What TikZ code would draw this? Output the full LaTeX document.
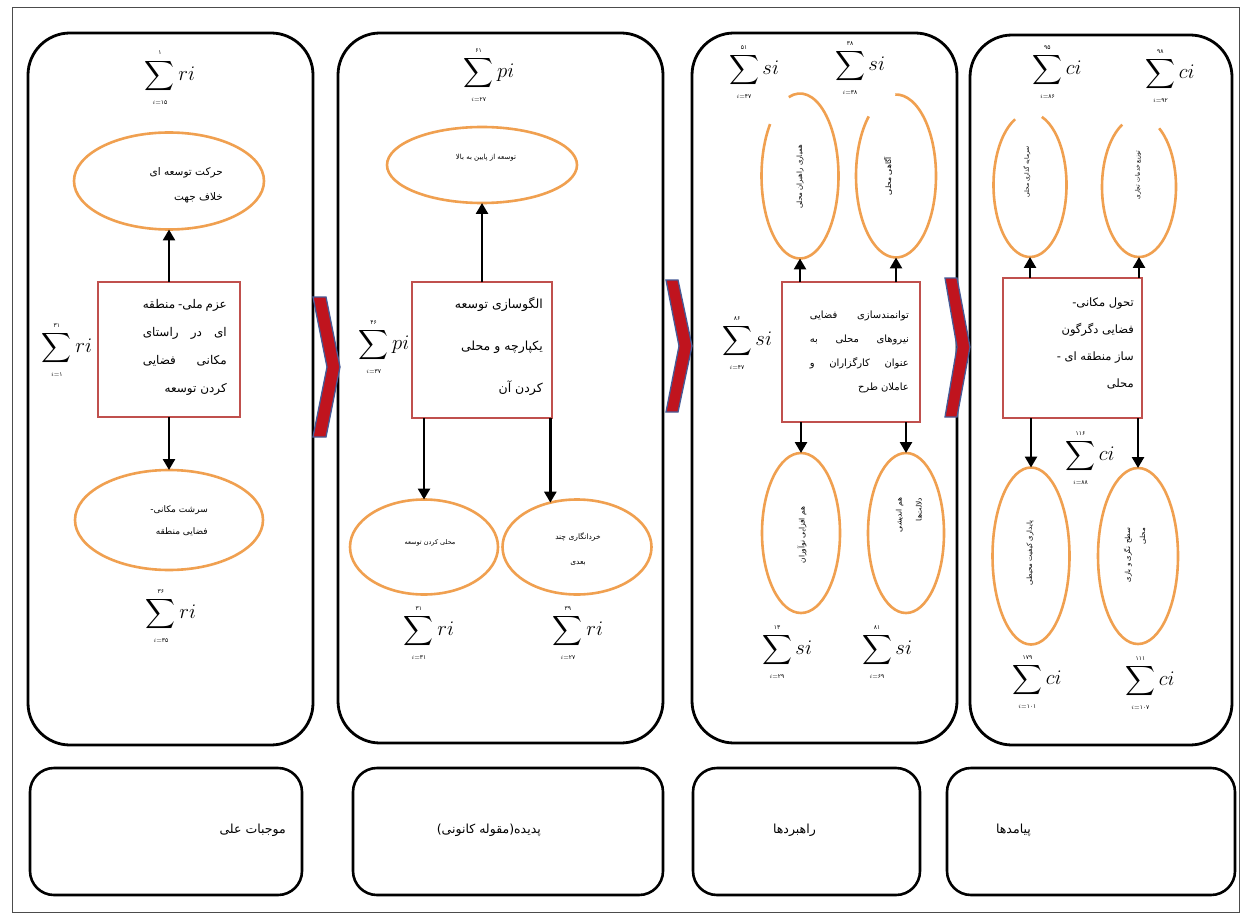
\documentclass[tikz,border=0pt]{standalone}
\usepackage{amsmath}
\usepackage{fontspec}
\usetikzlibrary{shapes.geometric,arrows.meta,calc}
\TeXXeTstate=1
\newfontfamily\arabicfont[Script=Arabic]{DejaVu Sans}
\newcommand{\fa}[1]{{\arabicfont #1}}
\newcommand{\faj}[2]{\hbox to #1{\arabicfont #2}}
\newcommand{\lmt}[1]{\mbox{\fontsize{6}{6}\selectfont #1}}
\newcommand{\sm}[3]{$\displaystyle\sum_{\lmt{$i$=\arabicfont #2}}^{\lmt{\arabicfont #1}} #3$}
\newcommand{\openell}[5]{\draw[orngline] ([shift={({#2*cos(#4)},{#3*sin(#4)})}]#1.center) arc[start angle=#4, end angle=#5, x radius=#2, y radius=#3];}
\definecolor{boxred}{RGB}{192,80,77}
\definecolor{orng}{RGB}{240,160,80}
\definecolor{chevred}{RGB}{192,20,30}
\definecolor{chevblue}{RGB}{70,90,150}
\tikzset{
  panel/.style={draw=black, line width=2.8pt, rounded corners=42pt, inner sep=0pt, outer sep=0pt},
  labbox/.style={draw=black, line width=2.6pt, rounded corners=24pt, inner sep=0pt},
  cbox/.style={draw=boxred, line width=2.4pt, fill=white, inner sep=0pt, outer sep=0pt},
  oval/.style={ellipse, draw=orng, line width=2.6pt, inner sep=0pt, outer sep=0pt},
  hid/.style={ellipse, inner sep=0pt, outer sep=0pt},
  orngline/.style={draw=orng, line width=2.6pt},
  arr/.style={line width=2.6pt, -{Triangle[length=11pt,width=12pt]}},
  sumn/.style={inner sep=0pt, font=\fontsize{21}{25}\selectfont},
  txt/.style={inner sep=0pt, align=right},
  ctxt/.style={inner sep=0pt, align=center},
  chev/.style={fill=chevred, draw=chevblue, line width=1.3pt, line join=miter},
}
\begin{document}
\begin{tikzpicture}[x=1pt,y=-1pt]
\useasboundingbox (0,0) rectangle (1244,917);
\fill[white] (0,0) rectangle (1244,917);
\draw[line width=1pt, black!70] (12,8) rectangle (1239,912);

% panels
\node[panel, minimum width=285pt, minimum height=712pt] (P1) at (170.5,389) {};
\node[panel, minimum width=325pt, minimum height=710pt] (P2) at (500.5,388) {};
\node[panel, minimum width=265pt, minimum height=710pt] (P3) at (824.5,388) {};
\node[panel, minimum width=262pt, minimum height=710pt] (P4) at (1101,390) {};

% bottom label boxes
\node[labbox, minimum width=272pt, minimum height=127pt] (B1) at (166,831.5) {};
\node[labbox, minimum width=310pt, minimum height=127pt] (B2) at (508,831.5) {};
\node[labbox, minimum width=227pt, minimum height=127pt] (B3) at (806.5,831.5) {};
\node[labbox, minimum width=288pt, minimum height=127pt] (B4) at (1091,831.5) {};
\node[txt, anchor=east, font=\fontsize{12.5}{14}\selectfont] (L1) at (286,830) {\fa{\beginR موجبات علی\endR}};
\node[txt, anchor=east, font=\fontsize{12.5}{14}\selectfont] (L2) at (541,830) {\fa{\beginR پدیده(مقوله کانونی)\endR}};
\node[txt, anchor=east, font=\fontsize{12.5}{14}\selectfont] (L3) at (816,830) {\fa{\beginR راهبردها\endR}};
\node[txt, anchor=east, font=\fontsize{12.5}{14}\selectfont] (L4) at (1031,830) {\fa{\beginR پیامدها\endR}};

% chevrons
\draw[chev] (313,297) -- (326,297) -- (340,367) -- (326,437) -- (313,437) -- (327,367) -- cycle;
\draw[chev] (666,280) -- (678,280) -- (692,346) -- (678,412) -- (666,412) -- (679,346) -- cycle;
\draw[chev] (945,278) -- (957,278) -- (970,347) -- (957,417) -- (945,417) -- (957,347) -- cycle;

% ---------- column 1
\node[sumn] (s1a) at (170,78) {\sm{۱}{۱۵}{ri}};
\node[oval, minimum width=190pt, minimum height=97pt] (e1a) at (169,181) {};
\node[txt, anchor=east, font=\fontsize{10.5}{25}\selectfont] (t1a) at (223,185) {\fa{\beginR حرکت توسعه ای\endR}\\\fa{\beginR خلاف جهت\endR}};
\node[cbox, minimum width=142pt, minimum height=135pt] (b1) at (169,349.5) {};
\node[txt, anchor=east, font=\fontsize{12}{28}\selectfont] (tb1) at (227,347) {\faj{84pt}{\beginR عزم ملی- منطقه\endR}\\\faj{84pt}{\beginR ای در راستای\endR}\\\faj{84pt}{\beginR مکانی فضایی\endR}\\\fa{\beginR کردن توسعه\endR}};
\node[sumn] (s1b) at (67,350) {\sm{۳۱}{۱}{ri}};
\node[oval, minimum width=188pt, minimum height=100pt] (e1b) at (169,520) {};
\node[txt, anchor=east, font=\fontsize{9}{22}\selectfont] (t1b) at (208,521) {\fa{\beginR سرشت مکانی-\endR}\\\fa{\beginR فضایی منطقه\endR}};
\node[sumn] (s1c) at (171,616) {\sm{۳۶}{۳۵}{ri}};
\draw[arr] (b1.north) -- (b1.north |- e1a.south);
\draw[arr] (b1.south) -- (b1.south |- e1b.north);

% ---------- column 2
\node[sumn] (s2a) at (489,75) {\sm{۶۱}{۲۷}{pi}};
\node[oval, minimum width=190pt, minimum height=76pt] (e2a) at (482,165) {};
\node[ctxt, font=\fontsize{7}{9}\selectfont] (t2a) at (486,158) {\fa{\beginR توسعه از پایین به بالا\endR}};
\node[cbox, minimum width=140pt, minimum height=136pt] (b2) at (482,350) {};
\node[txt, anchor=east, font=\fontsize{12.5}{42}\selectfont] (tb2) at (543,346) {\fa{\beginR الگوسازی توسعه\endR}\\\fa{\beginR یکپارچه و محلی\endR}\\\fa{\beginR کردن آن\endR}};
\node[sumn] (s2b) at (384,347) {\sm{۴۶}{۳۷}{pi}};
\node[oval, minimum width=148pt, minimum height=95pt] (e2b) at (424,547) {};
\node[ctxt, font=\fontsize{6.5}{8}\selectfont] (t2b) at (430,543) {\fa{\beginR محلی کردن توسعه\endR}};
\node[oval, minimum width=149pt, minimum height=95pt] (e2c) at (577,547) {};
\node[ctxt, font=\fontsize{7.5}{25}\selectfont] (t2c) at (578,549) {\fa{\beginR خردانگاری چند\endR}\\\fa{\beginR بعدی\endR}};
\node[sumn] (s2c) at (429,633) {\sm{۳۱}{۳۱}{ri}};
\node[sumn] (s2d) at (578,633) {\sm{۳۹}{۲۷}{ri}};
\draw[arr] (b2.north) -- (b2.north |- e2a.south);
\draw[arr] (b2.south -| e2b.north) -- (e2b.north);
\draw[arr] (b2.south -| e2c.121) -- (e2c.121);

% ---------- column 3
\node[sumn] (s3a) at (754,72) {\sm{۵۱}{۴۷}{si}};
\node[sumn] (s3b) at (860,68) {\sm{۳۸}{۳۸}{si}};
\node[hid, minimum width=77pt, minimum height=165pt] (e3a) at (800,176) {};
\openell{e3a}{38.5pt}{82.5pt}{141}{467}
\node[ctxt, rotate=90, font=\fontsize{7}{9}\selectfont] (t3a) at (800,177) {\fa{\beginR همیاری راهبران محلی\endR}};
\node[hid, minimum width=80pt, minimum height=163pt] (e3b) at (896,176) {};
\openell{e3b}{40pt}{81.5pt}{133}{451}
\node[ctxt, rotate=90, font=\fontsize{7.5}{9}\selectfont] (t3b) at (888,176) {\fa{\beginR آگاهی محلی\endR}};
\node[cbox, minimum width=138pt, minimum height=140pt] (b3) at (851,352) {};
\node[txt, anchor=east, font=\fontsize{10}{24}\selectfont] (tb3) at (909,352) {\faj{99pt}{\beginR توانمندسازی فضایی\endR}\\\faj{99pt}{\beginR نیروهای محلی به\endR}\\\faj{99pt}{\beginR عنوان کارگزاران و\endR}\\\fa{\beginR عاملان طرح\endR}};
\node[sumn] (s3c) at (747,343) {\sm{۸۶}{۴۷}{si}};
\node[oval, minimum width=78pt, minimum height=160pt] (e3c) at (801,533) {};
\node[ctxt, rotate=90, font=\fontsize{7.5}{9}\selectfont] (t3c) at (802,535) {\fa{\beginR هم افزایی نوآوران\endR}};
\node[oval, minimum width=76pt, minimum height=160pt] (e3d) at (906,533) {};
\node[txt, rotate=90, font=\fontsize{7.5}{20}\selectfont] (t3d) at (909,515) {\fa{\beginR هم اندیشی\endR}\\\fa{\beginR دلالت‌ها\endR}};
\node[sumn] (s3d) at (787,652) {\sm{۱۳}{۲۹}{si}};
\node[sumn] (s3e) at (887,652) {\sm{۸۱}{۶۹}{si}};
\draw[arr] (b3.north -| e3a.south) -- (e3a.south);
\draw[arr] (b3.north -| e3b.south) -- (e3b.south);
\draw[arr] (b3.south -| e3c.north) -- (e3c.north);
\draw[arr] (b3.south -| e3d.north) -- (e3d.north);

% ---------- column 4
\node[sumn] (s4a) at (1057,72) {\sm{۹۵}{۸۶}{ci}};
\node[sumn] (s4b) at (1170,76) {\sm{۹۸}{۹۲}{ci}};
\node[hid, minimum width=73pt, minimum height=144pt] (e4a) at (1030,185) {};
\openell{e4a}{36.5pt}{72pt}{114}{431}
\node[ctxt, rotate=90, font=\fontsize{6}{8}\selectfont] (t4a) at (1027,172) {\fa{\beginR سرمایه گذاری محلی\endR}};
\node[hid, minimum width=74pt, minimum height=140pt] (e4b) at (1139,187) {};
\openell{e4b}{37pt}{70pt}{117}{417}
\node[ctxt, rotate=90, font=\fontsize{6}{8}\selectfont] (t4b) at (1138,175) {\fa{\beginR توزیع خدمات تجاری\endR}};
\node[cbox, minimum width=139pt, minimum height=140pt] (b4) at (1072.5,348) {};
\node[txt, anchor=east, font=\fontsize{11.5}{27}\selectfont] (tb4) at (1134,343) {\fa{\beginR تحول مکانی-\endR}\\\fa{\beginR فضایی دگرگون\endR}\\\fa{\beginR ساز منطقه ای -\endR}\\\fa{\beginR محلی\endR}};
\node[sumn] (s4c) at (1090,458) {\sm{۱۱۶}{۸۸}{ci}};
\node[oval, minimum width=77pt, minimum height=177pt] (e4c) at (1031,556) {};
\node[ctxt, rotate=90, font=\fontsize{7}{9}\selectfont] (t4c) at (1030,553) {\fa{\beginR پایداری کیفیت محیطی\endR}};
\node[oval, minimum width=80pt, minimum height=176pt] (e4d) at (1138,556) {};
\node[txt, rotate=90, font=\fontsize{7}{15}\selectfont] (t4d) at (1135,555) {\fa{\beginR سطح نگری و بازی\endR}\\\fa{\beginR محلی\endR}};
\node[sumn] (s4d) at (1037,682) {\sm{۱۷۹}{۱۰۱}{ci}};
\node[sumn] (s4e) at (1150,683) {\sm{۱۱۱}{۱۰۷}{ci}};
\draw[arr] (b4.north -| e4a.south) -- (e4a.south);
\draw[arr] (b4.north -| e4b.south) -- (e4b.south);
\draw[arr] (b4.south -| e4c.north) -- (e4c.north);
\draw[arr] (b4.south -| e4d.north) -- (e4d.north);
\end{tikzpicture}
\end{document}
